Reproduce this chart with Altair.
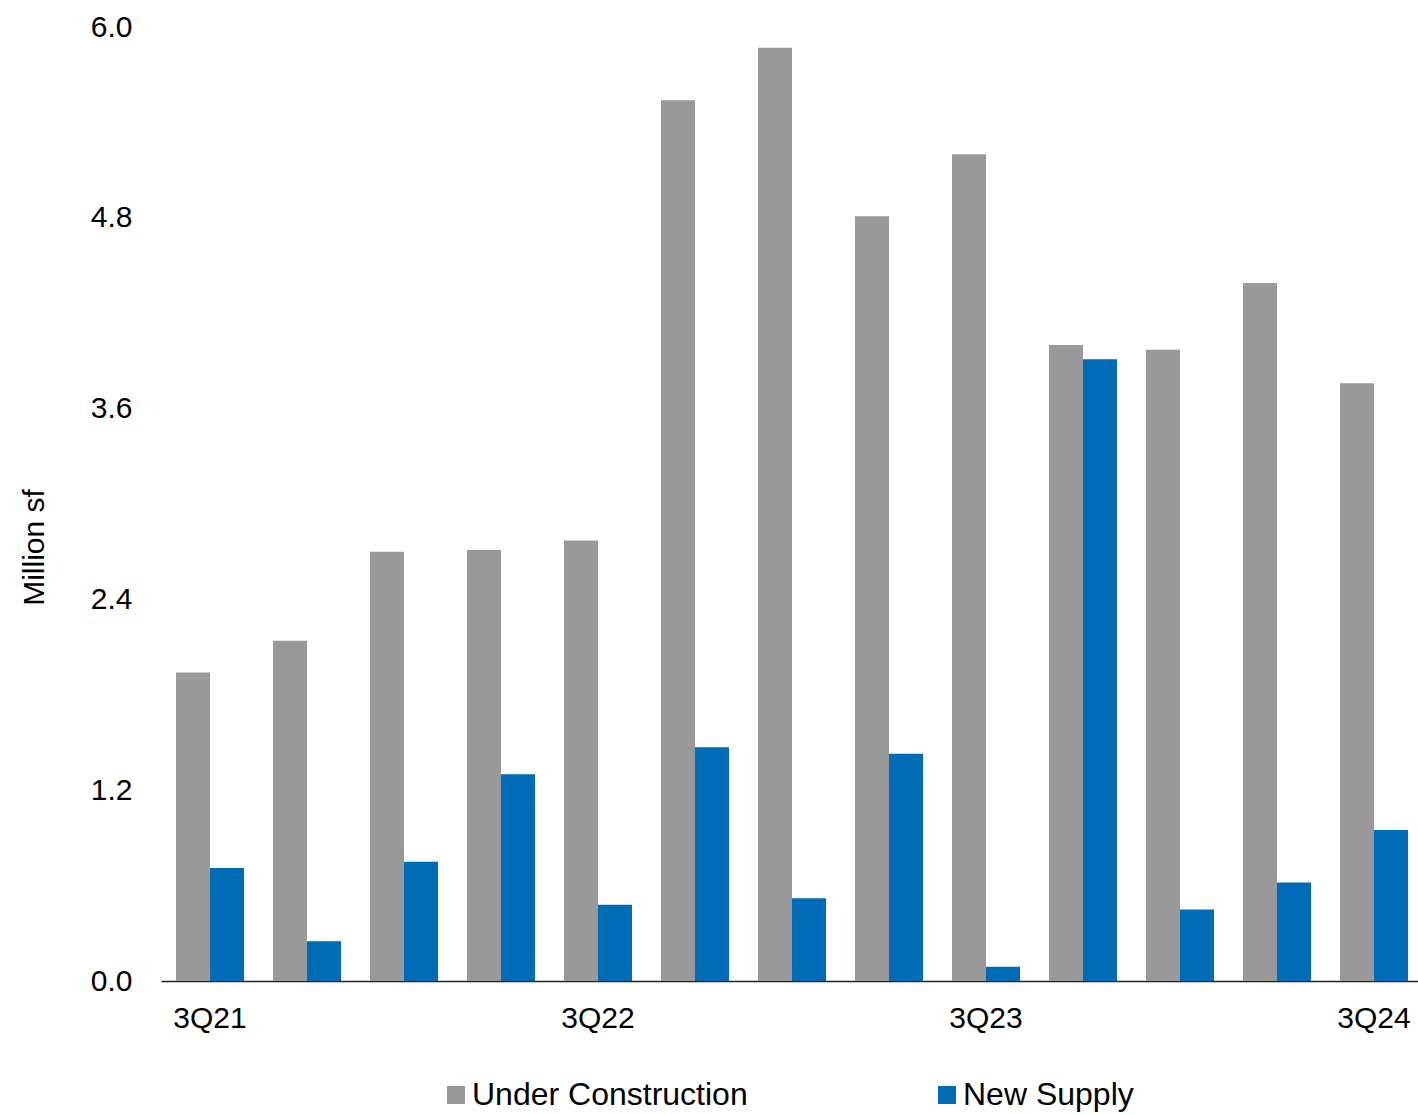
import altair as alt
import pandas as pd

quarters = ["3Q21", "4Q21", "1Q22", "2Q22", "3Q22", "4Q22", "1Q23",
            "2Q23", "3Q23", "4Q23", "1Q24", "2Q24", "3Q24"]
under_construction = [1.94, 2.14, 2.70, 2.71, 2.77, 5.54, 5.87,
                      4.81, 5.20, 4.00, 3.97, 4.39, 3.76]
new_supply = [0.71, 0.25, 0.75, 1.30, 0.48, 1.47, 0.52,
              1.43, 0.09, 3.91, 0.45, 0.62, 0.95]
series = ["Under Construction", "New Supply"]
colors = ["#999999", "#006BB6"]
shown_labels = ["3Q21", "3Q22", "3Q23", "3Q24"]
y_ticks = [0.0, 1.2, 2.4, 3.6, 4.8, 6.0]

rows = []
for q, uc, ns in zip(quarters, under_construction, new_supply):
    rows.append({"quarter": q, "series": series[0], "value": uc})
    rows.append({"quarter": q, "series": series[1], "value": ns})
df = pd.DataFrame(rows)

FONT = "Liberation Sans"

chart = alt.Chart(df).mark_bar().encode(
    x=alt.X(
        "quarter:N",
        sort=quarters,
        scale=alt.Scale(paddingInner=0.299, paddingOuter=0.129, align=0.6),
        axis=alt.Axis(
            title=None,
            values=shown_labels,
            labelAngle=0,
            ticks=False,
            tickSize=0,
            labelPadding=22,
            labelFontSize=30,
            labelColor="#000000",
            labelFont=FONT,
            domainColor="#222222",
            domainWidth=1.5,
            grid=False,
        ),
    ),
    xOffset=alt.XOffset("series:N", sort=series),
    y=alt.Y(
        "value:Q",
        scale=alt.Scale(domain=[0, 6.0], nice=False),
        axis=alt.Axis(
            title="Million sf",
            values=y_ticks,
            format=".1f",
            domain=False,
            ticks=False,
            tickSize=0,
            grid=False,
            labelPadding=29,
            labelFontSize=30,
            labelColor="#000000",
            labelFont=FONT,
            titleFont=FONT,
            titleFontSize=30,
            titleFontWeight="normal",
            titleColor="#000000",
            titleAngle=-90,
            titleX=-127,
            titleY=520,
            titleAlign="center",
            titleBaseline="middle",
        ),
    ),
    color=alt.Color(
        "series:N",
        sort=series,
        scale=alt.Scale(domain=series, range=colors),
        legend=alt.Legend(
            title=None,
            orient="none",
            direction="horizontal",
            legendX=279,
            legendY=1052,
            symbolType="square",
            symbolSize=324,
            symbolStrokeWidth=0,
            labelFont=FONT,
            labelFontSize=32,
            labelColor="#000000",
            labelLimit=600,
            labelOffset=0,
            columnPadding=183,
        ),
    ),
).properties(
    width=1257,
    height=954,
    autosize=alt.AutoSizeParams(type="none"),
    padding={"left": 161, "top": 27, "right": 0, "bottom": 134},
).configure(
    background="#ffffff"
).configure_view(
    stroke=None,
    strokeWidth=0,
)

chart.save("out.html", embed_options={"renderer": "svg", "actions": False})
